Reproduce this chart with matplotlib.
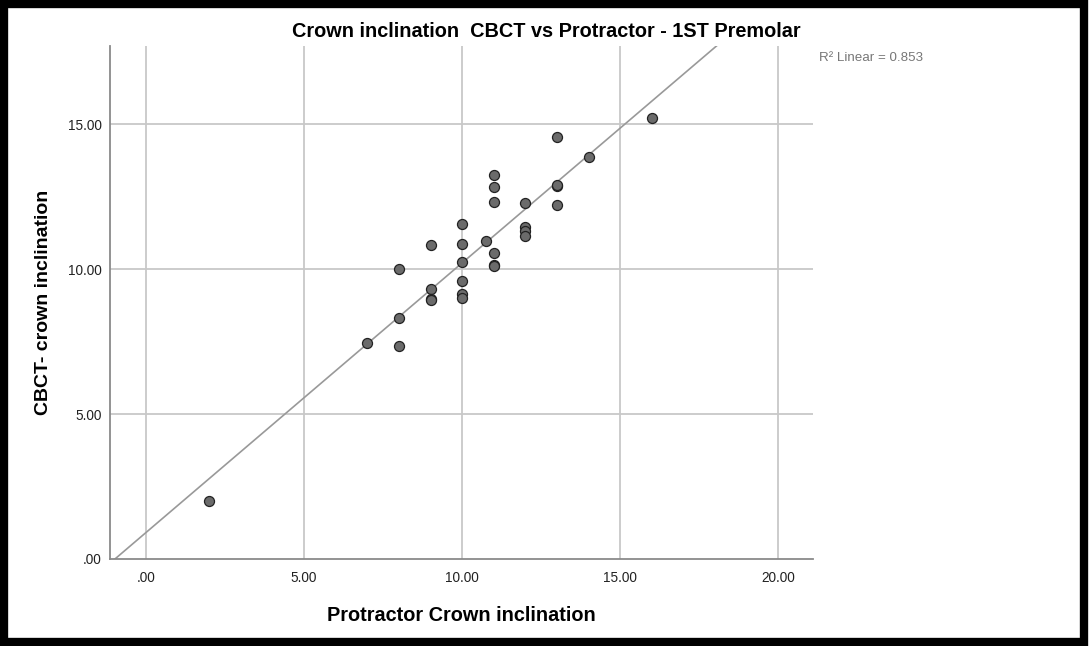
import numpy as np
import matplotlib
matplotlib.use("Agg")
import matplotlib.pyplot as plt
from matplotlib.patches import Rectangle

plt.rcParams['font.family'] = ['Liberation Sans', 'DejaVu Sans']

# protractor vs CBCT crown inclination
protractor = [16, 13, 14, 11, 11, 11, 13, 13, 13, 12, 12, 12, 12,
              10, 10, 10.77, 9, 11, 11, 11, 10, 8, 10, 10, 10,
              9, 9, 9, 8, 8, 7, 2]
cbct = [15.23, 14.55, 13.86, 13.25, 12.82, 12.32, 12.87, 12.9, 12.23,
        12.28, 11.45, 11.3, 11.15, 11.57, 10.88, 10.96, 10.83, 10.57,
        10.15, 10.12, 10.24, 9.99, 9.59, 9.14, 8.99, 9.32, 8.98, 8.92,
        8.3, 7.36, 7.46, 2.0]

xticks = [0, 5, 10, 15, 20]
yticks = [0, 5, 10, 15]
tick_labels_x = ['.00', '5.00', '10.00', '15.00', '20.00']
tick_labels_y = ['.00', '5.00', '10.00', '15.00']

fig = plt.figure(figsize=(10.9, 6.46), dpi=100)
ax = fig.add_axes([0.1009, 0.1347, 0.6450, 0.7941])

x = np.array(protractor)
y = np.array(cbct)
slope, icpt = np.polyfit(x, y, 1)

ax.set_xlim(-1.14, 21.1)
ax.set_ylim(0, 17.7)

for t in xticks:
    ax.axvline(t, color='#c8c8c8', lw=1.3, zorder=1)
for t in yticks[1:]:
    ax.axhline(t, color='#c8c8c8', lw=1.3, zorder=1)

xs = np.array([-1.14, 21.1])
ax.plot(xs, icpt + slope * xs, color='#999999', lw=1.2, zorder=2)

ax.scatter(x, y, s=52, facecolor='#6b6b6b', edgecolor='#222222',
           linewidth=0.9, zorder=3)

ax.set_xticks(xticks)
ax.set_xticklabels(tick_labels_x)
ax.set_yticks(yticks)
ax.set_yticklabels(tick_labels_y)
ax.tick_params(length=0, labelsize=9.8, colors='#222222')
ax.tick_params(axis='x', pad=9)
ax.tick_params(axis='y', pad=6)

for s in ['top', 'right']:
    ax.spines[s].set_visible(False)
for s in ['left', 'bottom']:
    ax.spines[s].set_color('#8a8a8a')
    ax.spines[s].set_linewidth(1.3)

ax.set_xlabel('Protractor Crown inclination', fontsize=14.3, fontweight='bold',
              labelpad=15)
ax.set_ylabel('CBCT- crown inclination', fontsize=14, fontweight='bold',
              labelpad=11)

fig.text(0.501, 0.952, 'Crown inclination  CBCT vs Protractor - 1ST Premolar',
         ha='center', va='center', fontsize=14.3, fontweight='bold')
fig.text(0.751, 0.910, 'R\u00b2 Linear = %.3f' % 0.853, ha='left', va='center',
         fontsize=9.6, color='#777777')

# black frame around the whole picture
fig.patches.append(Rectangle((0.004, 0.006), 0.9905, 0.9885,
                             transform=fig.transFigure, fill=False,
                             edgecolor='black', linewidth=6))

fig.savefig('out.png', dpi=100)
